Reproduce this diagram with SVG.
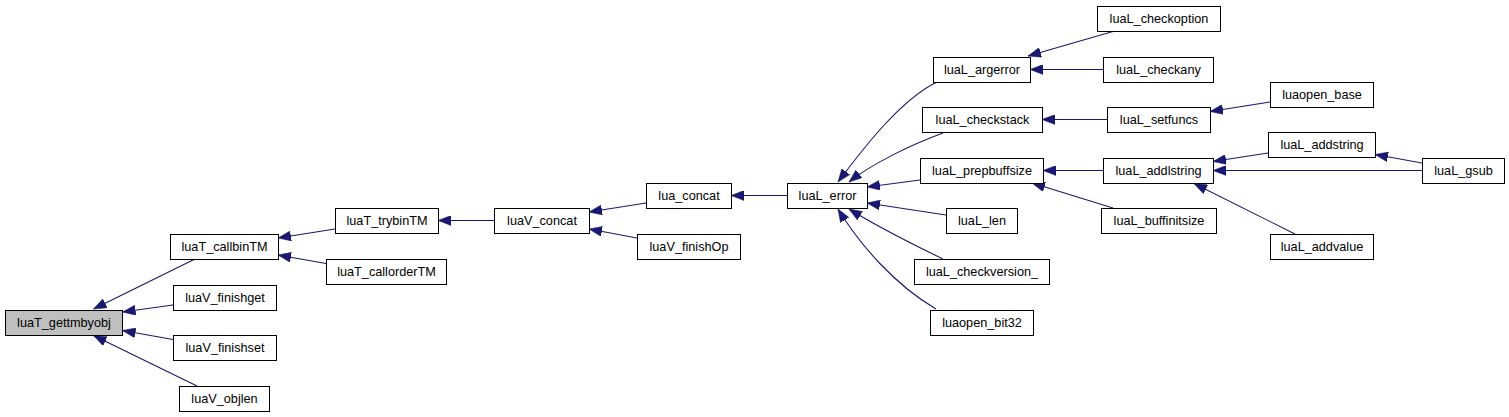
<svg xmlns="http://www.w3.org/2000/svg" width="1509" height="417" viewBox="0 0 1509 417">
<defs>
<style>
.n rect{fill:#ffffff;stroke:#000000;stroke-width:1}
.n.root rect{fill:#bfbfbf}
.n text{font-family:"Liberation Sans",Arial,sans-serif;font-size:12.7px;fill:#000000;text-anchor:middle}
.e path{fill:none;stroke:#191970;stroke-width:1.1;marker-end:url(#arr)}
</style>
<marker id="arr" viewBox="0 0 13 10" refX="13" refY="5" markerWidth="13" markerHeight="10" markerUnits="userSpaceOnUse" orient="auto">
<path d="M0,0 L13,5 L0,10 z" fill="#191970" stroke="#191970" stroke-width="0.5"/>
</marker>
</defs>
<rect x="0" y="0" width="1509" height="417" fill="#ffffff"/>
<g id="connectors" class="e">
<path d="M195,259 L93.5,309"/>
<path d="M173,305 L122.5,312"/>
<path d="M173,339.5 L122.5,330.5"/>
<path d="M197,386 L93.5,335.5"/>
<path d="M335,229 L278,238"/>
<path d="M326,263.5 L278,255"/>
<path d="M494,220.5 L438,220.5"/>
<path d="M646,203 L589,212"/>
<path d="M637,238 L589,229"/>
<path d="M787,195.5 L731,195.5"/>
<path d="M937,82 C900,100 862,150 838,182"/>
<path d="M943,133 C910,145 870,165 849,182"/>
<path d="M920,180 L867,187"/>
<path d="M946,215 L867,203"/>
<path d="M943,259 C910,243 870,222 849,209"/>
<path d="M936,309 C895,285 860,245 838,209"/>
<path d="M1113,31.5 L1028,56"/>
<path d="M1103,69.5 L1030,69.5"/>
<path d="M1107,119.5 L1042,119.5"/>
<path d="M1270,102 L1210,111.5"/>
<path d="M1103,170.5 L1043,170.5"/>
<path d="M1113,208 L1032,183"/>
<path d="M1268,153 L1213,161.5"/>
<path d="M1422,170.5 L1213,170.5"/>
<path d="M1295,234 L1194,183.5"/>
<path d="M1422,163 L1375,154.5"/>
</g>
<g id="luaT_gettmbyobj" class="n root"><rect x="5.5" y="310.5" width="117" height="25"/><text x="64" y="327">luaT_gettmbyobj</text></g>
<g id="luaT_callbinTM" class="n"><rect x="170.5" y="234.5" width="108" height="25"/><text x="224.5" y="251">luaT_callbinTM</text></g>
<g id="luaV_finishget" class="n"><rect x="173.5" y="285.5" width="103" height="25"/><text x="225" y="302">luaV_finishget</text></g>
<g id="luaV_finishset" class="n"><rect x="173.5" y="335.5" width="103" height="25"/><text x="225" y="352">luaV_finishset</text></g>
<g id="luaV_objlen" class="n"><rect x="179.5" y="386.5" width="90" height="25"/><text x="224.5" y="403">luaV_objlen</text></g>
<g id="luaT_trybinTM" class="n"><rect x="335.5" y="208.5" width="103" height="25"/><text x="387" y="225">luaT_trybinTM</text></g>
<g id="luaT_callorderTM" class="n"><rect x="326.5" y="259.5" width="120" height="25"/><text x="386.5" y="276">luaT_callorderTM</text></g>
<g id="luaV_concat" class="n"><rect x="494.5" y="208.5" width="95" height="25"/><text x="542" y="225">luaV_concat</text></g>
<g id="lua_concat" class="n"><rect x="646.5" y="183.5" width="85" height="25"/><text x="689" y="200">lua_concat</text></g>
<g id="luaV_finishOp" class="n"><rect x="637.5" y="234.5" width="103" height="25"/><text x="689" y="251">luaV_finishOp</text></g>
<g id="luaL_error" class="n"><rect x="787.5" y="183.5" width="80" height="25"/><text x="827.5" y="200">luaL_error</text></g>
<g id="luaL_argerror" class="n"><rect x="933.5" y="57.5" width="97" height="25"/><text x="982" y="74">luaL_argerror</text></g>
<g id="luaL_checkstack" class="n"><rect x="922.5" y="107.5" width="120" height="25"/><text x="982.5" y="124">luaL_checkstack</text></g>
<g id="luaL_prepbuffsize" class="n"><rect x="920.5" y="158.5" width="123" height="25"/><text x="982" y="175">luaL_prepbuffsize</text></g>
<g id="luaL_len" class="n"><rect x="946.5" y="208.5" width="71" height="25"/><text x="982" y="225">luaL_len</text></g>
<g id="luaL_checkversion_" class="n"><rect x="914.5" y="259.5" width="135" height="25"/><text x="982" y="276">luaL_checkversion_</text></g>
<g id="luaopen_bit32" class="n"><rect x="930.5" y="310.5" width="103" height="25"/><text x="982" y="327">luaopen_bit32</text></g>
<g id="luaL_checkoption" class="n"><rect x="1097.5" y="6.5" width="123" height="25"/><text x="1159" y="23">luaL_checkoption</text></g>
<g id="luaL_checkany" class="n"><rect x="1103.5" y="57.5" width="110" height="25"/><text x="1158.5" y="74">luaL_checkany</text></g>
<g id="luaL_setfuncs" class="n"><rect x="1107.5" y="107.5" width="103" height="25"/><text x="1159" y="124">luaL_setfuncs</text></g>
<g id="luaL_addlstring" class="n"><rect x="1103.5" y="158.5" width="110" height="25"/><text x="1158.5" y="175">luaL_addlstring</text></g>
<g id="luaL_buffinitsize" class="n"><rect x="1101.5" y="208.5" width="115" height="25"/><text x="1159" y="225">luaL_buffinitsize</text></g>
<g id="luaopen_base" class="n"><rect x="1270.5" y="82.5" width="103" height="25"/><text x="1322" y="99">luaopen_base</text></g>
<g id="luaL_addstring" class="n"><rect x="1268.5" y="132.5" width="107" height="25"/><text x="1322" y="149">luaL_addstring</text></g>
<g id="luaL_addvalue" class="n"><rect x="1270.5" y="234.5" width="103" height="25"/><text x="1322" y="251">luaL_addvalue</text></g>
<g id="luaL_gsub" class="n"><rect x="1422.5" y="158.5" width="82" height="25"/><text x="1463.5" y="175">luaL_gsub</text></g>
</svg>
